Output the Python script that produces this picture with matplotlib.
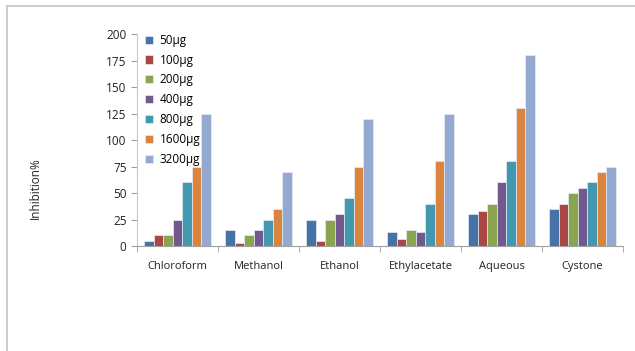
import numpy as np
import matplotlib.pyplot as plt
from matplotlib.lines import Line2D

# Extratos testados e doses
extratos = ["Chloroform", "Methanol", "Ethanol", "Ethylacetate", "Aqueous", "Cystone"]
doses = ["50µg", "100µg", "200µg", "400µg", "800µg", "1600µg", "3200µg"]

# Inibição (%) por dose, um valor por extrato
inib_50 = [5, 15, 25, 13, 30, 35]
inib_100 = [10, 3, 5, 7, 33, 40]
inib_200 = [10, 10, 25, 15, 40, 50]
inib_400 = [25, 15, 30, 13, 60, 55]
inib_800 = [60, 25, 45, 40, 80, 60]
inib_1600 = [75, 35, 75, 80, 130, 70]
inib_3200 = [125, 70, 120, 125, 180, 75]
series = [inib_50, inib_100, inib_200, inib_400, inib_800, inib_1600, inib_3200]

cores = ["#4572A7", "#AA4643", "#89A54E", "#71588F", "#4198AF", "#DB843D", "#93A9CF"]

plt.rcParams['font.family'] = ['Open Sans', 'DejaVu Sans']

fig = plt.figure(figsize=(6.35, 3.51), dpi=100)
ax = fig.add_axes([0.2157, 0.2991, 0.7653, 0.604])

n = len(series)
larg = 1.0 / (n + 1.5)
x = np.arange(len(extratos))
for i, (vals, cor, rot) in enumerate(zip(series, cores, doses)):
    pos = x + (i - (n - 1) / 2) * larg
    ax.bar(pos, vals, width=larg, color=cor, edgecolor="#E6ECF4",
           linewidth=0.5, label=rot)

ax.set_xlim(-0.5, len(extratos) - 0.5)
ax.set_ylim(0, 200)
ax.set_yticks(np.arange(0, 201, 25))
ax.set_xticks(x)
ax.set_xticklabels(extratos)
ax.set_xticks(np.arange(-0.5, len(extratos)), minor=True)
ax.tick_params(axis="x", which="major", length=0, pad=11, labelsize=8, colors="#222222")
ax.tick_params(axis="x", which="minor", length=4, color="#A0A0A0", direction="out")
ax.tick_params(axis="y", length=4, color="#A0A0A0", labelsize=8.5, colors="#222222")

for s in ["top", "right"]:
    ax.spines[s].set_visible(False)
ax.spines["left"].set_color("#C8C8C8")
ax.spines["bottom"].set_color("#A0A0A0")

fig.text(0.055, 0.465, "Inhibition%", rotation=90, ha="center", va="center",
         fontsize=8.5, color="#222222")

leg = ax.legend(loc="upper left", bbox_to_anchor=(0.0, 1.04), frameon=False,
                fontsize=8.5, handlelength=0.7, handleheight=0.7,
                handletextpad=0.5, labelspacing=0.58, borderaxespad=0.3)

# moldura da área do gráfico
fig.add_artist(Line2D([7 / 635, 7 / 635], [0, 1 - 6 / 351], color="#C4C4C4", lw=1.2))
fig.add_artist(Line2D([7 / 635, 1], [1 - 6 / 351, 1 - 6 / 351], color="#C4C4C4", lw=1.2))

fig.savefig("out.png", dpi=100)
